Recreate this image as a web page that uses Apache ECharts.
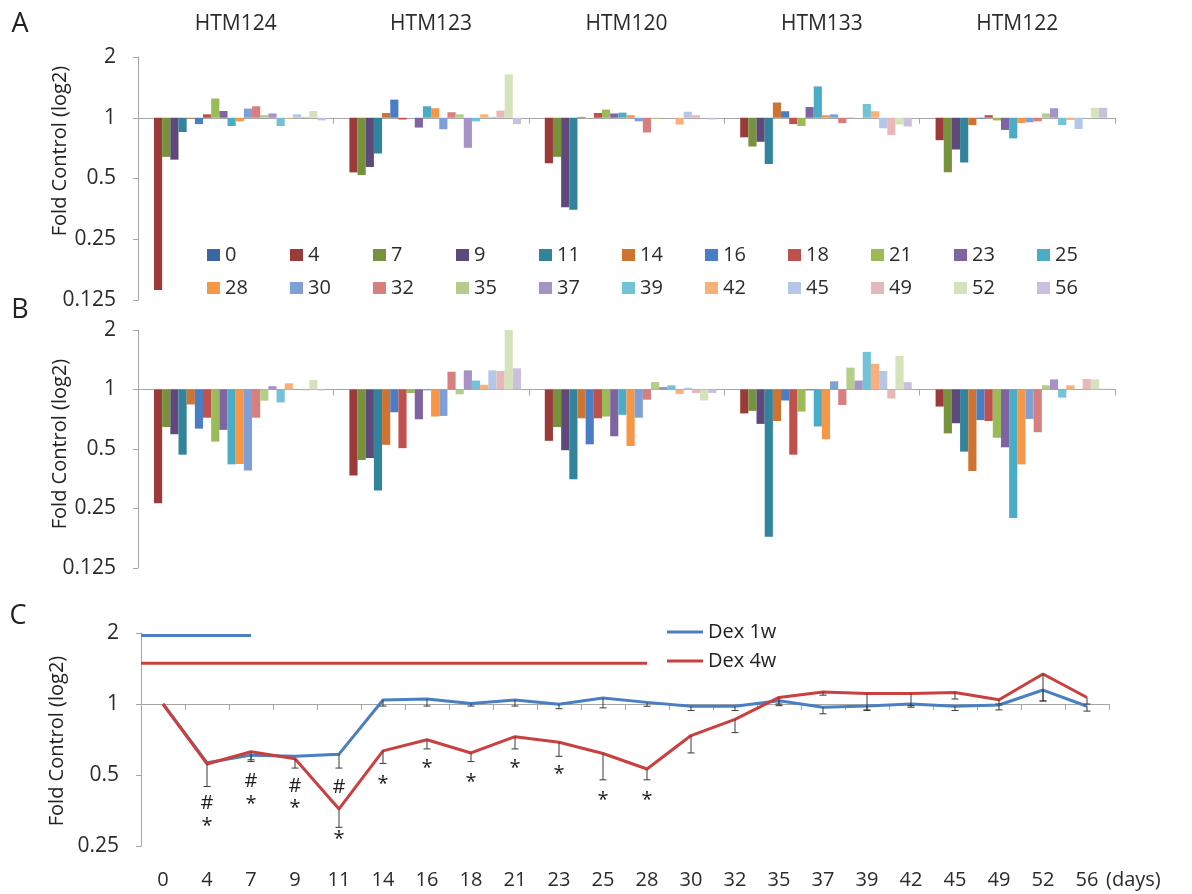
<!DOCTYPE html>
<html><head><meta charset="utf-8">
<script src="https://cdn.jsdelivr.net/npm/echarts@6/dist/echarts.min.js"></script>
<style>html,body{margin:0;padding:0;background:#fff}#chart{width:1192px;height:894px}</style>
</head><body><div id="chart"></div>
<script>
// ---------- data ----------
const days = [0,4,7,9,11,14,16,18,21,23,25,28,30,32,35,37,39,42,45,49,52,56];
const cellLines = ['HTM124','HTM123','HTM120','HTM133','HTM122'];

// Panel A (fold of control, per cell line, one value per day)
const A_HTM124 = [1.0,0.14,0.64,0.62,0.85,0.99,0.93,1.04,1.245,1.08,0.91,0.96,1.11,1.14,1.03,1.05,0.91,0.99,1.04,1.01,1.08,0.97];
const A_HTM123 = [1.0,0.536,0.52,0.57,0.665,1.056,1.23,0.98,1.0,0.894,1.14,1.115,0.877,1.065,1.04,0.71,0.96,1.04,1.01,1.085,1.64,0.93];
const A_HTM120 = [1.0,0.595,0.64,0.36,0.35,1.01,1.0,1.056,1.098,1.05,1.06,1.03,0.96,0.845,0.99,1.0,1.0,0.925,1.07,1.03,1.0,0.98];
const A_HTM133 = [1.0,0.80,0.72,0.76,0.59,1.19,1.077,0.93,0.91,1.13,1.43,1.03,1.04,0.94,1.005,1.0,1.17,1.077,0.887,0.82,0.925,0.905];
const A_HTM122 = [1.0,0.774,0.537,0.696,0.60,0.92,0.99,1.03,0.97,0.87,0.79,0.94,0.95,0.96,1.05,1.115,0.92,0.975,0.88,1.0,1.12,1.12];

// Panel B
const B_HTM124 = [1.0,0.266,0.646,0.594,0.468,0.84,0.634,0.72,0.545,0.625,0.418,0.42,0.389,0.72,0.878,1.04,0.86,1.075,1.0,0.99,1.117,0.99];
const B_HTM123 = [1.0,0.367,0.44,0.45,0.308,0.525,0.767,0.505,0.96,0.707,0.99,0.73,0.735,1.23,0.946,1.25,1.11,1.057,1.25,1.24,2.0,1.28];
const B_HTM120 = [1.0,0.55,0.646,0.493,0.352,0.715,0.528,0.715,0.73,0.58,0.745,0.518,0.72,0.888,1.09,1.03,1.05,0.95,1.02,0.96,0.88,0.96];
const B_HTM133 = [1.0,0.757,0.78,0.67,0.18,0.693,0.88,0.468,0.773,0.99,0.65,0.56,1.10,0.835,1.29,1.11,1.55,1.35,1.24,0.90,1.48,1.09];
const B_HTM122 = [1.0,0.82,0.60,0.675,0.485,0.387,0.70,0.693,0.57,0.51,0.224,0.418,0.71,0.608,1.05,1.125,0.91,1.05,1.0,1.13,1.125,1.01];

// Panel C (means and lower error-bar ends)
const dex1w = [1.0,0.564,0.607,0.60,0.613,1.04,1.05,1.006,1.04,0.997,1.06,1.016,0.978,0.978,1.032,0.969,0.981,1.0,0.978,0.99,1.146,0.978];
const dex4w = [1.0,0.557,0.627,0.586,0.359,0.633,0.705,0.62,0.727,0.688,0.617,0.53,0.735,0.861,1.066,1.125,1.107,1.107,1.118,1.042,1.34,1.066];
const err1wLow = [null,null,0.58,null,0.535,0.98,0.98,0.98,0.98,0.955,0.963,0.978,0.938,0.938,0.984,0.909,0.938,0.969,0.938,0.944,1.03,0.933];
const err4wLow = [null,0.447,0.57,0.535,0.30,0.56,0.645,0.57,0.645,0.60,0.477,0.477,0.62,0.756,1.0,1.09,0.944,0.984,1.05,1.0,1.03,1.0];

// Treatment periods (end day, level drawn at)
const treatNames = ['Dex 1w','Dex 4w'];
const treatEndDays = [7, 28];
const treatLevels = [1.95, 1.49];

// Significance marks (day, level)
const hashDays = [4,7,9,11];
const hashLevels = [0.379,0.469,0.449,0.442];
const starDays = [4,7,9,11,14,16,18,21,23,25,28];
const starLevels = [0.318,0.395,0.379,0.279,0.478,0.56,0.489,0.56,0.53,0.41,0.41];

// ---------- styles ----------
const dayColors = ['#3A67A3','#9B3B39','#76923C','#5F497A','#31849B','#CE7430',
  '#4A7EC4','#C0504D','#9BBB59','#8064A2','#4BACC6','#F79646',
  '#7EA0D6','#D87E7F','#B3CE89','#A692C6','#74C2D8','#F9B07B',
  '#B5C7E6','#E6B8B7','#D4E3BC','#CBC0DC'];
const lineColors = ['#4A7FC1','#C9403F'];
const FONT = '"Open Sans", "DejaVu Sans", sans-serif';
const AXIS_GRAY = '#A6A6A6';
const TXT = '#2b2b2b';

const grids = [
  {left:138, top:57, width:977, height:243},
  {left:138, top:330, width:977, height:238},
  {left:141, top:633, width:968, height:213}
];
const yRanges = [[0.125,2],[0.125,2],[0.25,2]];
function baseOffset(gi){
  const [mn,mx] = yRanges[gi];
  return -grids[gi].height * (0 - Math.log2(mn)) / (Math.log2(mx) - Math.log2(mn));
}
function logY(gi, split){
  return {type:'log', logBase:2, gridIndex:gi, min:yRanges[gi][0], max:yRanges[gi][1], splitNumber:split,
    axisLine:{show:true, lineStyle:{color:AXIS_GRAY, width:1}},
    axisTick:{show:true, length:5, lineStyle:{color:AXIS_GRAY}},
    splitLine:{show:false},
    axisLabel:{fontSize:21, color:TXT, fontFamily:FONT, margin:22,
      formatter: v => String(+(+v).toFixed(3))}};
}
function baseX(gi, data, tickLen){
  return {type:'category', gridIndex:gi, position:'bottom', offset:baseOffset(gi), data:data,
    axisLine:{show:true, onZero:false, lineStyle:{color:AXIS_GRAY, width:1}},
    axisTick:{show:true, length:tickLen, lineStyle:{color:AXIS_GRAY}},
    axisLabel:{show:false}, splitLine:{show:false}};
}

const dayNames = days.map(String);
const A_sets = [A_HTM124,A_HTM123,A_HTM120,A_HTM133,A_HTM122];
const B_sets = [B_HTM124,B_HTM123,B_HTM120,B_HTM133,B_HTM122];

const series = [];
[[A_sets,1,0],[B_sets,2,1]].forEach(([sets, xi, yi]) => {
  days.forEach((d, k) => {
    series.push({type:'bar', name:dayNames[k], xAxisIndex:xi, yAxisIndex:yi,
      data: sets.map(s => s[k]), barGap:'0%', barCategoryGap:'8%',
      itemStyle:{color:dayColors[k]}, silent:true});
  });
});

// error bars
function errSeries(means, lows){
  const data = [];
  means.forEach((m,i) => { if (lows[i] != null) data.push([i, m, lows[i]]); });
  return {type:'custom', xAxisIndex:3, yAxisIndex:2, data:data, silent:true, z:4,
    renderItem:(params, api) => {
      const p0 = api.coord([api.value(0), api.value(1)]);
      const p1 = api.coord([api.value(0), api.value(2)]);
      const st = {stroke:'#3a3a3a', lineWidth:1};
      return {type:'group', children:[
        {type:'line', shape:{x1:p0[0], y1:p0[1], x2:p1[0], y2:p1[1]}, style:st},
        {type:'line', shape:{x1:p1[0]-3.5, y1:p1[1], x2:p1[0]+3.5, y2:p1[1]}, style:st}
      ]};
    }};
}
series.push({type:'line', name:'Dex 1w', xAxisIndex:3, yAxisIndex:2, data:dex1w, symbol:'none',
  lineStyle:{width:3, color:lineColors[0]}, itemStyle:{color:lineColors[0]}, z:3, silent:true});
series.push({type:'line', name:'Dex 4w', xAxisIndex:3, yAxisIndex:2, data:dex4w, symbol:'none',
  lineStyle:{width:3, color:lineColors[1]}, itemStyle:{color:lineColors[1]}, z:3, silent:true});
series.push(errSeries(dex1w, err1wLow));
series.push(errSeries(dex4w, err4wLow));

// treatment period bars
treatNames.forEach((nm, t) => {
  series.push({type:'custom', name:nm + ' period', xAxisIndex:3, yAxisIndex:2, silent:true, z:3,
    data:[[days.indexOf(treatEndDays[t]), treatLevels[t]]],
    renderItem:(params, api) => {
      const e = api.coord([api.value(0), api.value(1)]);
      return {type:'line', shape:{x1:params.coordSys.x, y1:e[1], x2:e[0], y2:e[1]},
        style:{stroke:lineColors[t], lineWidth:3}};
    }});
});

// significance marks
function markSeries(sym, ds, lv, dy){
  return {type:'custom', xAxisIndex:3, yAxisIndex:2, silent:true, z:5,
    data: ds.map((d,k) => [days.indexOf(d), lv[k]]),
    renderItem:(params, api) => {
      const p = api.coord([api.value(0), api.value(1)]);
      return {type:'text', x:p[0], y:p[1] + dy,
        style:{text:sym, font:'20px ' + FONT, fill:'#1e1e1e', align:'center', verticalAlign:'middle',
          textAlign:'center', textVerticalAlign:'middle'}};
    }};
}
series.push(markSeries('#', hashDays, hashLevels, 0));
series.push(markSeries('*', starDays, starLevels, 5));

// legends
const legends = days.map((d, i) => ({
  data:[{name:dayNames[i], icon:'rect'}],
  left: 207 + 83 * (i % 11), top: i < 11 ? 245 : 278,
  padding:0, itemWidth:13, itemHeight:12, itemGap:0,
  textStyle:{fontSize:20, color:TXT, fontFamily:FONT, lineHeight:20}
}));
legends.push({data:[{name:'Dex 1w', icon:'rect'},{name:'Dex 4w', icon:'rect'}],
  left:667, top:622, orient:'vertical', padding:0, itemWidth:36, itemHeight:3, itemGap:9,
  textStyle:{fontSize:20, color:'#222', fontFamily:FONT, lineHeight:20}});

function txt(x, y, s, size, rot){
  return {type:'text', x:x, y:y, rotation:rot || 0, silent:true,
    style:{text:s, font:size + 'px ' + FONT, fill:'#222', align:'center', verticalAlign:'middle',
      textAlign:'center', textVerticalAlign:'middle'}};
}

const option = {
  animation:false,
  backgroundColor:'#fff',
  textStyle:{fontFamily:FONT},
  grid: grids.map(g => Object.assign({containLabel:false, outerBoundsMode:'none'}, g)),
  xAxis:[
    {type:'category', gridIndex:0, position:'top', data:cellLines,
      axisLine:{show:false}, axisTick:{show:false}, splitLine:{show:false},
      axisLabel:{fontSize:21, color:TXT, fontFamily:FONT, margin:22}},
    baseX(0, cellLines, 6),
    baseX(1, cellLines, 6),
    {type:'category', gridIndex:2, position:'bottom', data:dayNames,
      axisLine:{show:false, onZero:false}, axisTick:{show:false}, splitLine:{show:false},
      axisLabel:{fontSize:20, color:TXT, fontFamily:FONT, margin:24, interval:0}},
    baseX(2, dayNames, 6)
  ],
  yAxis:[logY(0,4), logY(1,4), logY(2,3)],
  legend: legends,
  graphic:[
    txt(20, 24, 'A', 27), txt(20, 310, 'B', 27), txt(18, 616, 'C', 27),
    txt(60, 151, 'Fold Control (log2)', 20, Math.PI/2),
    txt(60, 444, 'Fold Control (log2)', 20, Math.PI/2),
    txt(57, 741, 'Fold Control (log2)', 20, Math.PI/2),
    {type:'text', x:1106, y:880, silent:true,
      style:{text:'(days)', font:'20px ' + FONT, fill:TXT, align:'left', verticalAlign:'middle',
        textAlign:'left', textVerticalAlign:'middle'}}
  ],
  series: series
};

const chart = echarts.init(document.getElementById('chart'), null, {renderer:'canvas'});
chart.setOption(option);
</script></body></html>
